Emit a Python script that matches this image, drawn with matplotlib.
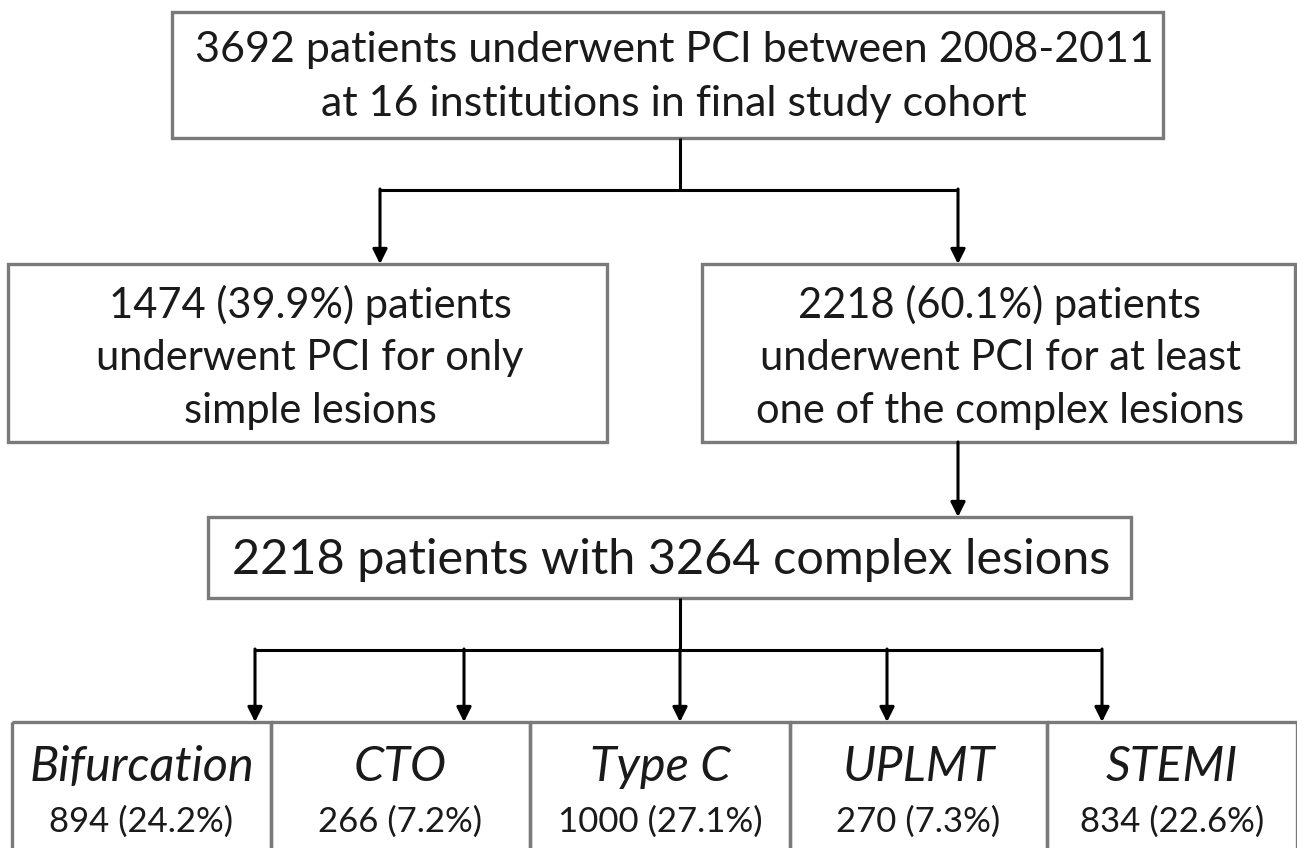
import matplotlib
matplotlib.use("Agg")
import matplotlib.pyplot as plt
from matplotlib.patches import Rectangle

plt.rcParams['font.family'] = ['Lato', 'DejaVu Sans']

top_text = ["3692 patients underwent PCI between 2008-2011", "at 16 institutions in final study cohort"]
left_text = ["1474 (39.9%) patients", "underwent PCI for only", "simple lesions"]
right_text = ["2218 (60.1%) patients", "underwent PCI for at least", "one of the complex lesions"]
mid_text = "2218 patients with 3264 complex lesions"
categories = ["Bifurcation", "CTO", "Type C", "UPLMT", "STEMI"]
counts = [894, 266, 1000, 270, 834]
percents = [24.2, 7.2, 27.1, 7.3, 22.6]

W, H = 1297, 848
fig = plt.figure(figsize=(W / 100, H / 100), dpi=100)
ax = fig.add_axes([0, 0, 1, 1])
ax.set_xlim(0, W)
ax.set_ylim(H, 0)
ax.axis('off')

EDGE = '#7a7a7a'
TXT = '#1a1a1a'
FS = 30

def box(x0, y0, x1, y1):
    ax.add_patch(Rectangle((x0, y0), x1 - x0, y1 - y0, fill=False, ec=EDGE, lw=2.4))

def arrow(x, y0, y1):
    ax.annotate('', xy=(x, y1), xytext=(x, y0),
                arrowprops=dict(arrowstyle='-|>', color='black', lw=2.2,
                                mutation_scale=22, shrinkA=0, shrinkB=0))

def line(xs, ys):
    ax.plot(xs, ys, color='black', lw=2.2, solid_capstyle='butt')

# top box
box(172, 12, 1163, 138)
for i, t in enumerate(top_text):
    ax.text(674, 50 + i * 54, t, ha='center', va='center', fontsize=31, color=TXT)

line([680, 680], [138, 190])
line([380, 958], [190, 190])
arrow(380, 189, 264)
arrow(958, 189, 264)

# left & right boxes
box(8, 264, 607, 442)
box(702, 264, 1295, 442)
for i, t in enumerate(left_text):
    ax.text(310, 305 + i * 53, t, ha='center', va='center', fontsize=FS, color=TXT)
for i, t in enumerate(right_text):
    ax.text(1000, 305 + i * 53, t, ha='center', va='center', fontsize=FS, color=TXT)

arrow(958, 442, 517)

# middle box
box(208, 517, 1131, 598)
ax.text(671, 560, mid_text, ha='center', va='center', fontsize=35, color=TXT)

line([680, 680], [598, 650])
xs_arrow = [255, 464, 680, 887, 1102]
line([xs_arrow[0], xs_arrow[-1]], [650, 650])
for x in xs_arrow:
    arrow(x, 649, 722)

# bottom boxes
edges = [12, 271, 530, 790, 1047, 1297]
for i, (c, n, p) in enumerate(zip(categories, counts, percents)):
    x0, x1 = edges[i], edges[i + 1]
    box(x0, 722, x1, 860)
    xc = (x0 + x1) / 2
    ax.text(xc, 767, c, ha='center', va='center', fontsize=35, style='italic', color=TXT)
    ax.text(xc, 822, f"{n} ({p}%)", ha='center', va='center', fontsize=25, color=TXT)

fig.savefig('out.png', dpi=100)
